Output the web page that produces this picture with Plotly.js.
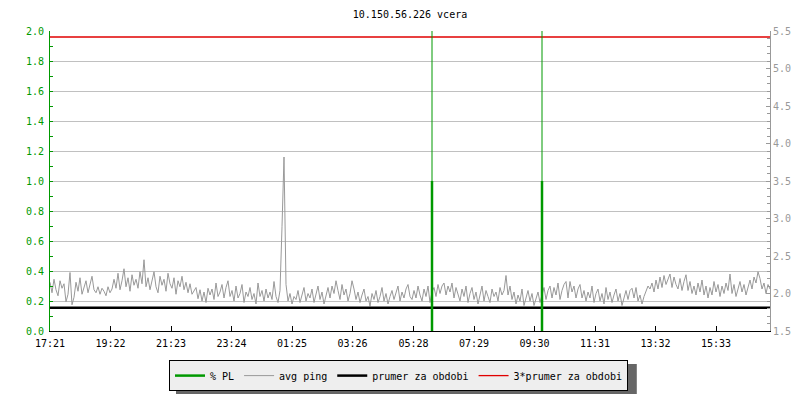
<!DOCTYPE html>
<html>
<head>
<meta charset="utf-8">
<script src="https://cdn.plot.ly/plotly-3.0.1.min.js"></script>
<style>html,body{margin:0;padding:0;background:#fff;}#chart{width:800px;height:400px;}</style>
</head>
<body>
<div id="chart"></div>
<script>
// ---- data ----
const chartTitle = '10.150.56.226 vcera';
const rangeStart = '2024-05-14 17:21:00';
const rangeEnd = '2024-05-15 17:21:00';
const sampleMinutes = 4;
const tickTimes = ['2024-05-14 17:21:00','2024-05-14 19:22:00','2024-05-14 21:23:00','2024-05-14 23:24:00',
  '2024-05-15 01:25:00','2024-05-15 03:26:00','2024-05-15 05:28:00','2024-05-15 07:29:00',
  '2024-05-15 09:30:00','2024-05-15 11:31:00','2024-05-15 13:32:00','2024-05-15 15:33:00'];
const tickLabels = ['17:21','19:22','21:23','23:24','01:25','03:26','05:28','07:29','09:30','11:31','13:32','15:33'];

// avg ping (right axis), one value every 4 minutes
const pingValues = [
  2.15,2.01,2.19,2.05,1.97,2.17,2.07,2.13,1.89,1.99,
  2.28,1.85,1.95,2.15,2.03,2.21,1.99,2.09,2.17,2.01,
  2.11,2.23,2.05,2.01,2.09,1.99,2.07,2.03,1.97,2.09,
  2.01,2.06,2.19,2.07,2.27,2.05,2.17,2.33,2.09,2.21,
  2.03,2.25,2.11,2.19,2.07,2.29,2.13,2.45,2.09,2.21,
  2.05,2.17,2.29,2.09,2.01,2.23,2.11,2.19,2.03,2.27,
  2.13,2.07,2.21,1.99,2.17,2.09,2.23,2.05,2.15,2.01,
  2.13,1.99,2.04,2.08,1.93,2.05,1.90,2.02,1.88,2.07,
  1.98,2.06,1.92,2.14,1.96,2.02,2.12,1.94,2.08,2.17,
  1.96,2.04,1.90,2.10,1.94,2.00,2.12,1.88,2.02,1.96,
  2.08,1.92,2.00,1.86,2.14,1.96,2.04,1.90,2.06,1.94,
  2.02,1.92,2.16,1.96,1.88,2.04,2.89,3.82,2.12,1.90,
  2.00,1.86,1.96,1.92,2.04,1.88,1.98,2.08,1.90,2.00,
  1.94,2.06,1.88,1.98,2.10,1.92,2.02,1.86,1.96,2.08,
  1.94,2.10,2.00,2.17,2.04,1.92,2.12,1.98,2.06,1.90,
  2.00,2.17,2.06,1.92,2.02,1.88,1.98,2.06,1.90,1.96,
  1.83,2.00,1.92,2.04,1.88,1.96,2.08,1.90,2.00,1.86,
  1.96,2.04,1.92,2.00,2.10,1.90,2.02,1.94,2.06,2.12,
  1.96,1.92,2.04,1.94,2.10,1.98,1.90,2.06,1.96,2.10,
  1.88,2.02,2.08,1.96,2.12,2.00,2.10,2.14,1.98,2.10,
  2.02,2.14,1.94,2.08,1.98,1.90,2.06,1.96,2.10,1.88,
  2.00,2.08,1.92,2.02,1.86,1.98,2.10,1.90,2.04,1.96,
  1.88,2.06,1.96,2.02,1.90,2.08,1.98,2.04,2.24,1.98,
  2.10,1.92,2.02,1.86,1.98,1.90,2.06,1.84,1.96,2.04,
  1.90,2.00,1.84,1.94,2.02,1.88,1.98,2.08,1.92,2.04,
  2.10,1.94,2.08,1.98,2.14,1.92,2.04,2.12,2.16,1.94,
  2.16,2.02,2.10,1.94,2.06,2.12,1.94,2.04,1.90,2.02,
  1.94,2.10,1.88,2.00,2.06,1.90,2.00,1.86,2.08,1.92,
  2.02,1.88,1.98,2.06,1.90,2.00,1.84,1.96,2.04,1.92,
  2.04,2.07,1.94,2.08,1.90,1.98,1.86,1.96,2.04,2.10,
  2.06,2.14,2.02,2.18,2.06,2.22,2.08,2.24,2.12,2.20,
  2.26,2.08,2.22,2.12,2.06,2.20,2.04,2.16,2.25,2.04,
  2.16,2.00,2.10,1.98,2.14,2.02,2.18,1.98,2.10,1.94,
  2.08,1.98,2.16,2.02,2.12,1.96,2.10,2.00,2.14,2.04,
  2.26,2.00,2.12,1.96,2.08,2.16,2.02,2.12,1.98,2.10,
  2.18,2.06,2.22,2.14,2.29,2.20,2.06,2.14,2.00,2.12,
  2.06
];
const pingAverage = 1.81;       // prumer za obdobi
const pingTripleAverage = 5.42; // 3*prumer za obdobi

// packet loss (left axis)
const plTimes = ['2024-05-15 06:05:00','2024-05-15 09:45:00'];
const plValues = [1.0, 1.0];
const plPeaks = [2.0, 2.0];

// ---- build ----
function toMs(s){ return Date.parse(s.replace(' ','T') + 'Z'); }
function fmt(ms){ return new Date(ms).toISOString().replace('T',' ').slice(0,19); }
const startMs = toMs(rangeStart);
const pingTimes = pingValues.map((_, i) => fmt(startMs + i * sampleMinutes * 60000));

function spikes(times, vals){
  const x = [], y = [];
  times.forEach((t, i) => { x.push(t, t, null); y.push(0, vals[i], null); });
  return {x, y};
}
const plThin = spikes(plTimes, plPeaks);
const plThick = spikes(plTimes, plValues);

const GREEN = '#009900';
const GRAY = '#999999';
const mono = 'DejaVu Sans Mono, monospace';

const traces = [
  {x: plThick.x, y: plThick.y, yaxis: 'y2', mode: 'lines', name: '% PL',
   line: {color: GREEN, width: 2.5}, connectgaps: false},
  {x: plThin.x, y: plThin.y, yaxis: 'y2', mode: 'lines', name: '% PL', showlegend: false,
   line: {color: GREEN, width: 1}, connectgaps: false},
  {x: pingTimes, y: pingValues, yaxis: 'y', mode: 'lines', name: 'avg ping',
   line: {color: GRAY, width: 1}},
  {x: [rangeStart, rangeEnd], y: [pingAverage, pingAverage], yaxis: 'y', mode: 'lines',
   name: 'prumer za obdobi', line: {color: '#000000', width: 2.5}},
  {x: [rangeStart, rangeEnd], y: [pingTripleAverage, pingTripleAverage], yaxis: 'y', mode: 'lines',
   name: '3*prumer za obdobi', line: {color: '#e00000', width: 1.3}}
];

const layout = {
  width: 800, height: 400,
  margin: {l: 50, r: 30, t: 31, b: 69, autoexpand: false},
  paper_bgcolor: '#ffffff', plot_bgcolor: '#ffffff',
  font: {family: mono, size: 10, color: '#000'},
  title: {text: chartTitle, font: {family: mono, size: 10, color: '#000'},
          x: 0.5, xref: 'paper', xanchor: 'center', y: 1 - 14/400, yanchor: 'middle'},
  showlegend: true,
  legend: {orientation: 'h', x: 0.484, xanchor: 'center', y: -0.097, yanchor: 'top',
           bgcolor: '#eeeeee', bordercolor: '#000', borderwidth: 1,
           font: {family: mono, size: 10, color: '#000'}, itemwidth: 30},
  shapes: [
    {type: 'rect', xref: 'paper', yref: 'paper', layer: 'above',
     x0: 0.175, x1: 0.815, y0: -0.11, y1: -0.21,
     fillcolor: '#666666', line: {width: 0}}
  ],
  xaxis: {type: 'date', range: [rangeStart, rangeEnd], tickmode: 'array',
          tickvals: tickTimes, ticktext: tickLabels, ticks: 'inside', ticklen: 5,
          tickcolor: '#000', showline: true, linecolor: '#000', linewidth: 1,
          showgrid: false, zeroline: false, ticklabelstandoff: 3,
          tickfont: {family: mono, size: 10, color: '#000'}},
  yaxis: {side: 'right', range: [1.5, 5.5], dtick: 0.5, tickformat: '.1f',
          showgrid: false, zeroline: false, showline: true, linecolor: GRAY, linewidth: 1,
          ticks: 'inside', ticklen: 4, tickcolor: GRAY,
          minor: {dtick: 0.1, ticks: 'inside', ticklen: 3, tickcolor: GRAY, showgrid: false},
          tickfont: {family: mono, size: 10, color: GRAY}},
  yaxis2: {overlaying: 'y', side: 'left', range: [0, 2], dtick: 0.2, tickformat: '.1f',
           showgrid: true, gridcolor: '#c0c0c0', gridwidth: 1, zeroline: false,
           showline: true, linecolor: GREEN, linewidth: 1,
           ticks: 'inside', ticklen: 3, tickcolor: GREEN, ticklabelstandoff: 3,
           minor: {dtick: 0.1, ticks: 'inside', ticklen: 3, tickcolor: GREEN, showgrid: false},
           tickfont: {family: mono, size: 10, color: GREEN}}
};

Plotly.newPlot('chart', traces, layout, {staticPlot: true, displayModeBar: false});
</script>
</body>
</html>
